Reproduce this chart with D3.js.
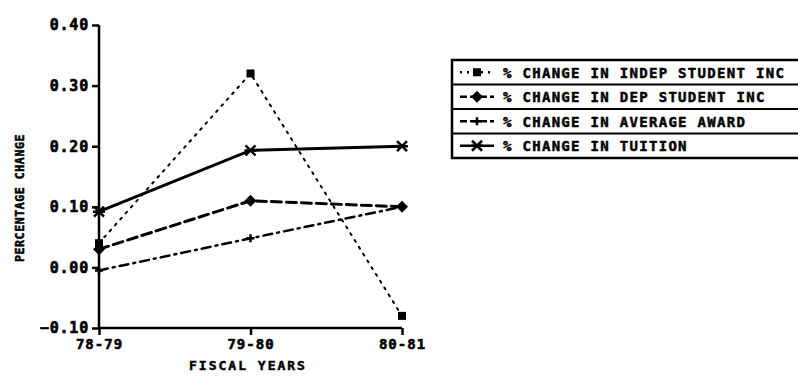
<!DOCTYPE html>
<html><head><meta charset="utf-8">
<script src="https://cdn.jsdelivr.net/npm/d3@7/dist/d3.min.js"></script>
<style>body{margin:0;background:#fff}svg{display:block}</style>
</head><body><svg id="c" width="798" height="382"></svg>
<script>
const categories = ["78-79", "79-80", "80-81"];
const indepStudentInc = [0.04, 0.32, -0.08];
const depStudentInc = [0.03, 0.11, 0.10];
const averageAward = [-0.005, 0.048, 0.10];
const tuition = [0.092, 0.193, 0.20];
const yTicks = [-0.10, 0.00, 0.10, 0.20, 0.30, 0.40];
const seriesNames = ["% CHANGE IN INDEP STUDENT INC", "% CHANGE IN DEP STUDENT INC", "% CHANGE IN AVERAGE AWARD", "% CHANGE IN TUITION"];

const series = [
  {name: seriesNames[0], values: indepStudentInc, dash: "2,6", width: 2, marker: "square"},
  {name: seriesNames[1], values: depStudentInc, dash: "10,5", width: 3, marker: "diamond"},
  {name: seriesNames[2], values: averageAward, dash: "9,5,2,5", width: 2.5, marker: "cross"},
  {name: seriesNames[3], values: tuition, dash: null, width: 3, marker: "star"}
];

const svg = d3.select("#c");
const font = "'DejaVu Sans Mono', monospace";
const x = d3.scalePoint().domain(categories).range([99, 402]);
const y = d3.scaleLinear().domain([-0.10, 0.40]).range([328, 25]);

// axes
const yAxis = svg.append("g").attr("transform", "translate(99,0)")
  .call(d3.axisLeft(y).tickValues(yTicks).tickFormat(d3.format(".2f")).tickSize(7).tickPadding(3));
const xAxis = svg.append("g").attr("transform", "translate(0,328)")
  .call(d3.axisBottom(x).tickSize(7).tickPadding(2));
[yAxis, xAxis].forEach(g => {
  g.select(".domain").attr("stroke", "#000").attr("stroke-width", 2.5);
  g.selectAll(".tick line").attr("stroke", "#000").attr("stroke-width", 2.5);
  g.selectAll(".tick text").attr("fill", "#000").attr("font-family", font)
    .attr("font-weight", "bold").attr("font-size", 15).attr("letter-spacing", 0.8)
    .attr("stroke", "#000").attr("stroke-width", 0.6);
});
xAxis.selectAll(".tick text").attr("font-size", 14).attr("letter-spacing", 1).attr("dy", "0.85em");
yAxis.select(".domain").attr("d", "M0,25V328");
xAxis.select(".domain").attr("d", "M99,0H402");

svg.append("text").attr("x", 248).attr("y", 370).attr("text-anchor", "middle")
  .attr("font-family", font).attr("font-weight", "bold").attr("font-size", 13)
  .attr("letter-spacing", 2).attr("stroke", "#000").attr("stroke-width", 0.5).text("FISCAL YEARS");
svg.append("text").attr("transform", "translate(24,198) rotate(-90)").attr("text-anchor", "middle")
  .attr("font-family", font).attr("font-weight", "bold").attr("font-size", 11.5)
  .attr("letter-spacing", 0.6).attr("stroke", "#000").attr("stroke-width", 0.5).text("PERCENTAGE CHANGE");

// markers
function drawMarker(g, type, cx, cy) {
  if (type === "square") {
    g.append("rect").attr("x", cx - 4).attr("y", cy - 4).attr("width", 8).attr("height", 8).attr("fill", "#000");
  } else if (type === "diamond") {
    g.append("path").attr("d", `M${cx},${cy-6}L${cx+6},${cy}L${cx},${cy+6}L${cx-6},${cy}Z`).attr("fill", "#000");
  } else if (type === "cross") {
    g.append("path").attr("d", `M${cx-4},${cy}H${cx+4}M${cx},${cy-4}V${cy+4}`).attr("stroke", "#000").attr("stroke-width", 2.5);
  } else if (type === "star") {
    g.append("path").attr("d", `M${cx-5},${cy-5}L${cx+5},${cy+5}M${cx-5},${cy+5}L${cx+5},${cy-5}M${cx-6},${cy}H${cx+6}`)
      .attr("stroke", "#000").attr("stroke-width", 2.5);
  }
}

const line = d3.line().x((d, i) => x(categories[i])).y(d => y(d));
series.forEach(s => {
  const g = svg.append("g");
  g.append("path").attr("d", line(s.values)).attr("fill", "none").attr("stroke", "#000")
    .attr("stroke-width", s.width).attr("stroke-dasharray", s.dash).attr("stroke-linecap", "round");
  s.values.forEach((v, i) => drawMarker(g, s.marker, x(categories[i]), y(v)));
});

// legend
const lg = svg.append("g");
const lx = 452, ly = 60, rowH = 24.5;
lg.append("rect").attr("x", lx).attr("y", ly).attr("width", 360).attr("height", rowH * 4)
  .attr("fill", "#fff").attr("stroke", "#000").attr("stroke-width", 2.5);
series.forEach((s, i) => {
  const cy = ly + rowH * i + rowH / 2;
  if (i > 0) lg.append("line").attr("x1", lx).attr("x2", 800).attr("y1", ly + rowH * i).attr("y2", ly + rowH * i)
    .attr("stroke", "#000").attr("stroke-width", 2);
  lg.append("line").attr("x1", 460).attr("x2", 494).attr("y1", cy).attr("y2", cy)
    .attr("stroke", "#000").attr("stroke-width", 2.5).attr("stroke-dasharray", s.dash ? (i === 0 ? "2,5" : "7,3") : null);
  drawMarker(lg, s.marker, 477, cy);
  lg.append("text").attr("x", 503).attr("y", cy + 5.5).attr("font-family", font).attr("font-weight", "bold")
    .attr("font-size", 14).attr("letter-spacing", 1.3).attr("stroke", "#000").attr("stroke-width", 0.5).text(s.name);
});
</script></body></html>
